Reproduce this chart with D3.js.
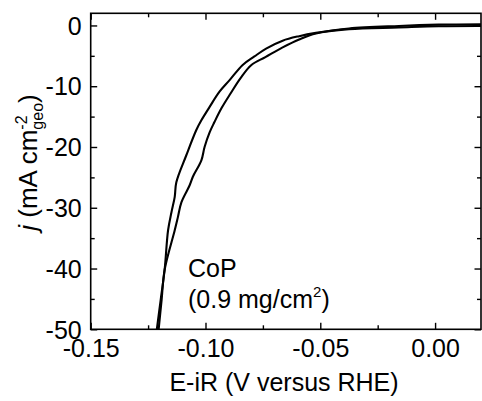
<!DOCTYPE html>
<html>
<head>
<meta charset="utf-8">
<script src="https://cdn.jsdelivr.net/npm/d3@7"></script>
<style>
  html, body { margin: 0; padding: 0; background: #fff; }
  svg { display: block; }
  text { font-family: Arial, "Liberation Sans", Helvetica, sans-serif; fill: #000; }
</style>
</head>
<body>
<svg id="chart" width="482" height="401"></svg>
<script>
// ---- data ----
// Scan 1 (left / upper branch): potential E-iR (V vs RHE), current density j (mA cm^-2)
const scanA_E = [-0.1212, -0.1195, -0.1178, -0.1163, -0.1148, -0.1134, -0.1127, -0.1084, -0.1040, -0.1018, -0.0982, -0.0939, -0.0895, -0.0838, -0.0787, -0.0736, -0.0664, -0.0592, -0.0519, -0.0375, -0.0158, 0.0016, 0.0200];
const scanA_j = [-50.0, -45.1, -40.2, -33.7, -30.7, -28.2, -25.8, -21.4, -17.2, -15.6, -13.4, -10.9, -9.0, -6.5, -5.1, -3.8, -2.5, -1.76, -1.22, -0.49, -0.08, 0.13, 0.21];
// Scan 2 (right / lower branch)
const scanB_E = [-0.1204, -0.1191, -0.1178, -0.1134, -0.1120, -0.1105, -0.1069, -0.1055, -0.1018, -0.1004, -0.0982, -0.0961, -0.0930, -0.0891, -0.0848, -0.0800, -0.0739, -0.0664, -0.0592, -0.0519, -0.0375, -0.0158, 0.0016, 0.0200];
const scanB_j = [-50.0, -45.1, -40.2, -33.7, -31.5, -29.1, -26.3, -24.9, -22.2, -20.0, -17.6, -15.9, -13.6, -11.2, -8.7, -6.5, -5.2, -3.6, -2.3, -1.32, -0.61, -0.33, -0.12, -0.08];

const xMajorTicks = [-0.15, -0.10, -0.05, 0.00];
const xMinorTicks = [-0.125, -0.075, -0.025];
const xTickLabels = ["-0.15", "-0.10", "-0.05", "0.00"];
const yMajorTicks = [0, -10, -20, -30, -40, -50];
const yMinorTicks = [-5, -15, -25, -35, -45];
const yTickLabels = ["0", "-10", "-20", "-30", "-40", "-50"];
const xDomain = [-0.15, 0.02];
const yDomain = [-50, 2];

// ---- layout ----
const svg = d3.select("#chart");
const margin = {left: 90.7, right: 1, top: 13.3, bottom: 71.7};
const W = 482, H = 401;
const x = d3.scaleLinear().domain(xDomain).range([margin.left, W - margin.right]);
const y = d3.scaleLinear().domain(yDomain).range([H - margin.bottom, margin.top]);

const FS = 25;
const majorLen = 6.5, minorLen = 4;

svg.append("defs").append("clipPath").attr("id", "clip")
  .append("rect")
  .attr("x", x.range()[0]).attr("y", y.range()[1])
  .attr("width", x.range()[1] - x.range()[0])
  .attr("height", y.range()[0] - y.range()[1]);

// curves
const line = d3.line().x(d => x(d[0])).y(d => y(d[1])).curve(d3.curveCatmullRom.alpha(0.5));
const seriesA = scanA_E.map((e, i) => [e, scanA_j[i]]);
const seriesB = scanB_E.map((e, i) => [e, scanB_j[i]]);
const g = svg.append("g").attr("clip-path", "url(#clip)");
[seriesA, seriesB].forEach(s => {
  g.append("path").datum(s).attr("d", line)
    .attr("fill", "none").attr("stroke", "#000").attr("stroke-width", 2.1)
    .attr("stroke-linejoin", "round");
});

// axes (all inward ticks)
function styleAxis(sel) {
  sel.select(".domain").remove();
  sel.selectAll("line").attr("stroke", "#000").attr("stroke-width", 1.4);
}
const bottomY = y.range()[0], topY = y.range()[1], leftX = x.range()[0], rightX = x.range()[1];

// bottom major
const xb = svg.append("g").attr("transform", `translate(0,${bottomY})`)
  .call(d3.axisBottom(x).tickValues(xMajorTicks).tickSizeInner(-majorLen).tickSizeOuter(0)
    .tickFormat((d, i) => xTickLabels[i]));
styleAxis(xb);
xb.selectAll("text").attr("font-size", FS).attr("y", 28).attr("dy", 0)
  .attr("font-family", "Arial, 'Liberation Sans', sans-serif");
svg.append("g").attr("transform", `translate(0,${bottomY})`)
  .call(d3.axisBottom(x).tickValues(xMinorTicks).tickSizeInner(-minorLen).tickSizeOuter(0).tickFormat(""))
  .call(styleAxis);
// top mirror
svg.append("g").attr("transform", `translate(0,${topY})`)
  .call(d3.axisTop(x).tickValues(xMajorTicks).tickSizeInner(-majorLen).tickSizeOuter(0).tickFormat(""))
  .call(styleAxis);
svg.append("g").attr("transform", `translate(0,${topY})`)
  .call(d3.axisTop(x).tickValues(xMinorTicks).tickSizeInner(-minorLen).tickSizeOuter(0).tickFormat(""))
  .call(styleAxis);
// left
const yl = svg.append("g").attr("transform", `translate(${leftX},0)`)
  .call(d3.axisLeft(y).tickValues(yMajorTicks).tickSizeInner(-majorLen).tickSizeOuter(0)
    .tickFormat((d, i) => yTickLabels[i]));
styleAxis(yl);
yl.selectAll("text").attr("font-size", FS).attr("x", -9).attr("dy", "0.35em")
  .attr("font-family", "Arial, 'Liberation Sans', sans-serif");
svg.append("g").attr("transform", `translate(${leftX},0)`)
  .call(d3.axisLeft(y).tickValues(yMinorTicks).tickSizeInner(-minorLen).tickSizeOuter(0).tickFormat(""))
  .call(styleAxis);
// right mirror
svg.append("g").attr("transform", `translate(${rightX},0)`)
  .call(d3.axisRight(y).tickValues(yMajorTicks).tickSizeInner(-majorLen).tickSizeOuter(0).tickFormat(""))
  .call(styleAxis);
svg.append("g").attr("transform", `translate(${rightX},0)`)
  .call(d3.axisRight(y).tickValues(yMinorTicks).tickSizeInner(-minorLen).tickSizeOuter(0).tickFormat(""))
  .call(styleAxis);

// frame
svg.append("rect").attr("x", leftX).attr("y", topY)
  .attr("width", rightX - leftX).attr("height", bottomY - topY)
  .attr("fill", "none").attr("stroke", "#000").attr("stroke-width", 1.6);

// x label
svg.append("text").attr("x", 284).attr("y", 391).attr("text-anchor", "middle")
  .attr("font-size", FS).text("E-iR (V versus RHE)");

// y label (rotated) with stacked sup/sub
const yLab = svg.append("text").attr("transform", "translate(37,162.5) rotate(-90)")
  .attr("text-anchor", "start").attr("font-size", 26);
yLab.append("tspan").attr("font-style", "italic").text("j");
yLab.append("tspan").text(" (mA cm");
const sup = yLab.append("tspan").attr("font-size", 16).attr("dy", -10).text("-2");
const sub = yLab.append("tspan").attr("font-size", 16).attr("dy", 16).text("geo");
const close = yLab.append("tspan").attr("dy", -6).text(")");
const supW = sup.node().getComputedTextLength();
sub.attr("dx", -supW);
const totalW = yLab.node().getComputedTextLength() - supW;
yLab.attr("transform", `translate(37,${162.5 + totalW / 2}) rotate(-90)`);

// annotation
svg.append("text").attr("x", 188).attr("y", 277).attr("font-size", FS).text("CoP");
const ann2 = svg.append("text").attr("x", 188).attr("y", 308).attr("font-size", FS);
ann2.append("tspan").text("(0.9 mg/cm");
ann2.append("tspan").attr("font-size", 15).attr("dy", -11).text("2");
ann2.append("tspan").attr("dy", 11).text(")");
</script>
</body>
</html>
